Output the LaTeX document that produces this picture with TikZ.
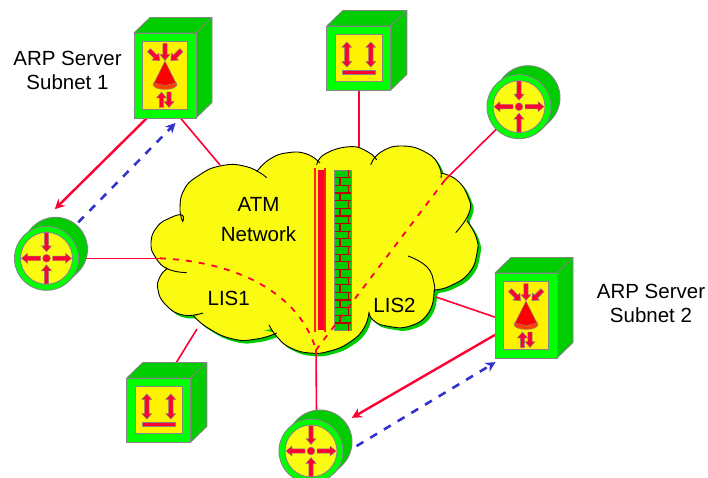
\documentclass[tikz,border=0pt]{standalone}
\usepackage{fontspec}
\setmainfont{Liberation Sans}
\usetikzlibrary{arrows.meta}

\definecolor{wirered}{HTML}{FF0033}
\definecolor{wireblue}{HTML}{3333CC}
\definecolor{bodygreen}{HTML}{00FF00}
\definecolor{sidegreen}{HTML}{00CC00}
\definecolor{cloudyellow}{HTML}{FBFB12}
\definecolor{edgegrey}{HTML}{858585}
\definecolor{coneorange}{HTML}{FF4000}

% Lobes du nuage
\newcommand{\cloudlobes}{
  plot[smooth, tension=0.85] coordinates {(182.7,221.7) (180,208) (184,190) (197,176.7) (220,166) (246.7,166.7) (266.7,177.7)}
  plot[smooth, tension=0.85] coordinates {(256.7,171.7) (270,159) (288,152.7) (306.7,154) (320,163)}
  plot[smooth, tension=0.85] coordinates {(316.7,165) (325,154) (350,146.7) (368,152) (376.7,160)}
  plot[smooth, tension=0.85] coordinates {(370.7,165) (381,152) (403,146) (427,153) (439,166) (441,178)}
  plot[smooth, tension=0.85] coordinates {(440.7,173) (456.7,180) (468,196.7) (469,213) (455.7,232.7)}
  plot[smooth, tension=0.85] coordinates {(466.7,220.7) (476,236.7) (477,253) (469,273) (450,286) (434,290)}
  plot[smooth, tension=0.85] coordinates {(408,256) (426.7,266.7) (434,283) (434,293)}
  plot[smooth, tension=0.85] coordinates {(434,290) (429,312) (410,326) (386.7,326) (373,320) (369,311.7)}
  plot[smooth, tension=0.85] coordinates {(369,311.7) (364,328) (350,342) (330,351) (310,353) (291,348) (278,338) (269,325)}
  plot[smooth, tension=0.85] coordinates {(276.7,333) (256.7,339) (233,339) (208,328) (193,315)}
  plot[smooth, tension=0.85] coordinates {(203,313) (183,315) (166,305) (158,290) (160,276.7) (167,269)}
  plot[smooth, tension=0.85] coordinates {(186.7,272.7) (168,269) (156,258) (151,243) (157,227) (170,218) (182,215) (182.7,221.7)}
}
\newcommand{\cloudhull}{
  (182,215) -- (184,200) -- (220,172) -- (260,172) -- (287,158) -- (318,161) -- (350,152) -- (373,161) -- (403,152)
  -- (441,172) -- (460,195) -- (467,220) -- (472,252) -- (434,292) -- (410,320) -- (371,314) -- (345,340)
  -- (316,348) -- (272,329) -- (235,335) -- (198,316) -- (170,300) -- (165,270) -- (156,243) -- cycle
}

\tikzset{
  router/.style = {circle, minimum size=64pt, inner sep=0pt, outer sep=0pt},
  server/.style = {rectangle, minimum width=62pt, minimum height=85pt, inner sep=0pt, outer sep=0pt},
  client/.style = {rectangle, minimum width=64pt, minimum height=64pt, inner sep=0pt, outer sep=0pt},
  caption/.style = {inner sep=0pt, align=center, font=\fontsize{20.5}{24}\selectfont},
  edge/.style = {draw=edgegrey, line width=0.9pt},
  iconedge/.style = {draw=edgegrey, line width=0.45pt},
  thinwire/.style = {wirered, line width=1.6pt},
  splitwire/.style = {wirered, line width=1.8pt, dash pattern=on 6pt off 7pt},
  reqwire/.style = {wirered, line width=2.4pt, -{Stealth[length=10pt,width=10pt]}},
  respwire/.style = {wireblue, line width=2.6pt, dash pattern=on 8pt off 8pt, -{Stealth[length=10pt,width=10pt]}},
  pics/fatarrow/.style = {code={
    \filldraw[iconedge, fill=wirered] (0,-2.2) -- ({#1-6},-2.2) -- ({#1-6},-5) -- (#1,0)
      -- ({#1-6},5) -- ({#1-6},2.2) -- (0,2.2) -- cycle;
  }},
  pics/bothways/.style = {code={
    \filldraw[iconedge, fill=wirered] (-2.2,-7) -- (-5,-7) -- (0,-12.6) -- (5,-7) -- (2.2,-7) -- (2.2,7)
      -- (5,7) -- (0,12.6) -- (-5,7) -- (-2.2,7) -- cycle;
  }},
  pics/cube/.style 2 args = {code={
    \filldraw[edge, fill=sidegreen] ({-#1},{-#2}) -- ({-#1+16},{-#2-15.5}) -- ({#1+16},{-#2-15.5}) -- ({#1+16},{#2-15.5}) -- (#1,#2) -- (#1,{-#2}) -- cycle;
    \draw[edge] (#1,{-#2}) -- ({#1+16},{-#2-15.5});
    \filldraw[edge, fill=bodygreen] ({-#1},{-#2}) rectangle (#1,#2);
    \filldraw[edge, fill=yellow] ({-#1+8.5},{-#2+8.5}) rectangle ({#1-8.5},{#2-8.5});
  }},
  pics/routericon/.style = {code={
    \filldraw[edge, fill=sidegreen] (9,-9) circle (32pt);
    \filldraw[draw=none, fill=sidegreen] (-22.6,-22.6) -- (-13.6,-31.6) -- (31.6,13.6) -- (22.6,22.6) -- cycle;
    \draw[edge] (22.6,22.6) -- (31.6,13.6);
    \filldraw[edge, fill=bodygreen] (0,0) circle (32pt);
    \filldraw[edge, fill=cloudyellow] (0,0) circle (26pt);
    \path (0,-25.5) pic[rotate=-90] {fatarrow=19};
    \path (0,25.5) pic[rotate=90] {fatarrow=19};
    \path (6,0) pic {fatarrow=19};
    \path (-6,0) pic[rotate=180] {fatarrow=19};
    \filldraw[iconedge, fill=wirered] (0,0) circle (3.9pt);
  }},
  pics/servericon/.style = {code={
    \path pic {cube={31}{42.5}};
    \path (0,-32) pic[rotate=-90] {fatarrow=17};
    \path (-16,-25.3) pic[rotate=-45] {fatarrow=15};
    \path (16.4,-25.3) pic[rotate=-135] {fatarrow=15};
    \filldraw[iconedge, fill=coneorange] (0,9) ellipse (12pt and 5pt);
    \filldraw[iconedge, fill=red] (0,-14.3) -- (11,7.5) -- (0,10) -- (-11,7.5) -- cycle;
    \path (-3.5,32) pic[rotate=90] {fatarrow=15.5};
    \path (4,16.5) pic[rotate=-90] {fatarrow=15.5};
  }},
  pics/clienticon/.style = {code={
    \path pic {cube={32}{32}};
    \path (-12,-3.5) pic {bothways};
    \path (12,-3.5) pic {bothways};
    \filldraw[iconedge, fill=wirered] (-16.3,12) rectangle (16.3,16.7);
  }},
}

\begin{document}
\begin{tikzpicture}[x=1pt, y=-1pt]
    \useasboundingbox (0,0) rectangle (708,478);

    % Nuage
    \fill[sidegreen, shift={(3,3)}] \cloudhull;
    \fill[sidegreen, shift={(3,3)}] \cloudlobes;
    \fill[cloudyellow] \cloudhull;
    \fill[cloudyellow] \cloudlobes;
    \draw[black, line width=0.9pt] \cloudlobes;

    % Noeuds
    \node[server] (srvA) at (165,75.5) {};

    \node[server] (srvB) at (526,315.5) {};

    \node[client] (cliT) at (358.8,58) {};

    \node[client] (cliB) at (158.8,410) {};

    \node[router] (hubL) at (46.5,258.3) {};

    \node[router] (hubR) at (519,106.7) {};

    \node[router] (hubB) at (311,451) {};

    \coordinate (cloudA) at (220,165);
    \coordinate (cloudT) at (358.8,147);
    \coordinate (cloudR) at (445,180);
    \coordinate (cloudE) at (436,297);
    \coordinate (cloudS) at (316,350);
    \coordinate (cloudB) at (197,329);
    \coordinate (cloudL) at (160,258.3);

    % Mur
    \draw[thinwire, line width=1.1pt, orange!30!red] (315,168) -- (315,332);
    \draw[thinwire, line width=1.1pt, orange!30!red] (325,168) -- (325,332);
    \fill[wirered] (317.7,170) rectangle (323.7,330);
    \filldraw[edge, fill=sidegreen] (334.3,170) rectangle (351.3,330.7);
    \foreach \row in {1,...,20} {
        \draw[red!75!black, line width=1.2pt] (335,170+7.65*\row) -- (350.6,170+7.65*\row);
    }
    \foreach \row in {0,2,...,20} {
        \draw[red!75!black, line width=1.2pt] (348.5,170+7.65*\row) -- (348.5,177.65+7.65*\row);
    }
    \foreach \row in {1,3,...,19} {
        \draw[red!75!black, line width=1.2pt] (340,170+7.65*\row) -- (340,177.65+7.65*\row);
    }

    % Aretes
    \draw[thinwire] (srvA.-70.6) -- (cloudA);
    \draw[thinwire] (cliT.south) -- (cloudT);
    \draw[thinwire] (hubR) -- (cloudR);
    \draw[thinwire] (srvB.-177) -- (cloudE);
    \draw[thinwire] (hubB.80) -- (cloudS);
    \draw[thinwire] (cliB.76) -- (cloudB);
    \draw[thinwire] (hubL) -- (cloudL);
    \draw[splitwire] (cloudL) .. controls (240,262) and (300,295) .. (cloudS);
    \draw[splitwire] (cloudR) -- (cloudS);

    \draw[reqwire, shorten >=27pt] (srvA.-113) -- (hubL.110);
    \draw[respwire, shorten >=7pt] (hubL.50) -- (srvA.-70.6);
    \draw[reqwire, shorten >=21pt] (srvB.-148) -- (hubB.45);
    \draw[respwire, shorten >=8pt] (hubB.-6) -- (srvB.-119.8);

    % Equipements
    \pic at (srvA) {servericon};
    \pic at (srvB) {servericon};
    \pic at (cliT) {clienticon};
    \pic at (cliB) {clienticon};
    \pic at (hubL) {routericon};
    \pic at (hubR) {routericon};
    \pic at (hubB) {routericon};

    % Textes
    \node[caption] (arpA) at (67.5,70) {ARP Server\\Subnet 1};
    \node[caption] (arpB) at (651,303) {ARP Server\\Subnet 2};
    \node[caption, font=\fontsize{20.5}{30}\selectfont] (atm) at (258.5,220) {ATM\\Network};
    \node[caption] (lisA) at (228.7,298.5) {LIS1};
    \node[caption] (lisB) at (394.5,305.5) {LIS2};
\end{tikzpicture}
\end{document}
